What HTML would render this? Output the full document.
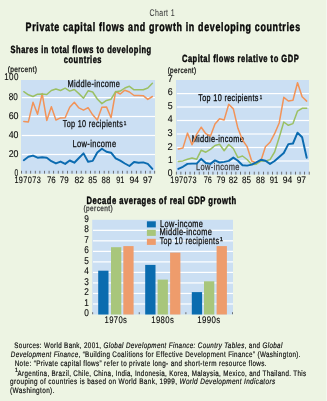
<!DOCTYPE html>
<html><head><meta charset="utf-8"><style>
html,body{margin:0;padding:0;background:#edf4e3;}
body{width:327px;height:401px;overflow:hidden;}
svg{display:block;will-change:transform;font-family:"Liberation Sans", sans-serif;text-rendering:geometricPrecision;}
</style></head><body>
<svg width="327" height="401" viewBox="0 0 327 401" fill="#080808">
<rect width="327" height="401" fill="#edf4e3"/>
<rect x="326" y="0" width="1" height="401" fill="#f4f7ef"/>
<rect x="21.0" y="80.0" width="134.0" height="93.80000000000001" fill="#cbdff3"/>
<rect x="21.8" y="97.0" width="133.2" height="1.2" fill="#fff"/>
<rect x="21.8" y="115.9" width="133.2" height="1.2" fill="#fff"/>
<rect x="21.8" y="134.9" width="133.2" height="1.2" fill="#fff"/>
<rect x="21.8" y="153.9" width="133.2" height="1.2" fill="#fff"/>
<rect x="21.10" y="170.8" width="0.8" height="2.8" fill="#555"/>
<rect x="25.69" y="170.8" width="0.8" height="2.8" fill="#555"/>
<rect x="30.29" y="170.8" width="0.8" height="2.8" fill="#555"/>
<rect x="34.88" y="170.8" width="0.8" height="2.8" fill="#555"/>
<rect x="39.47" y="170.8" width="0.8" height="2.8" fill="#555"/>
<rect x="44.07" y="170.8" width="0.8" height="2.8" fill="#555"/>
<rect x="48.66" y="170.8" width="0.8" height="2.8" fill="#555"/>
<rect x="53.25" y="170.8" width="0.8" height="2.8" fill="#555"/>
<rect x="57.84" y="170.8" width="0.8" height="2.8" fill="#555"/>
<rect x="62.44" y="170.8" width="0.8" height="2.8" fill="#555"/>
<rect x="67.03" y="170.8" width="0.8" height="2.8" fill="#555"/>
<rect x="71.62" y="170.8" width="0.8" height="2.8" fill="#555"/>
<rect x="76.22" y="170.8" width="0.8" height="2.8" fill="#555"/>
<rect x="80.81" y="170.8" width="0.8" height="2.8" fill="#555"/>
<rect x="85.40" y="170.8" width="0.8" height="2.8" fill="#555"/>
<rect x="89.99" y="170.8" width="0.8" height="2.8" fill="#555"/>
<rect x="94.59" y="170.8" width="0.8" height="2.8" fill="#555"/>
<rect x="99.18" y="170.8" width="0.8" height="2.8" fill="#555"/>
<rect x="103.77" y="170.8" width="0.8" height="2.8" fill="#555"/>
<rect x="108.37" y="170.8" width="0.8" height="2.8" fill="#555"/>
<rect x="112.96" y="170.8" width="0.8" height="2.8" fill="#555"/>
<rect x="117.55" y="170.8" width="0.8" height="2.8" fill="#555"/>
<rect x="122.15" y="170.8" width="0.8" height="2.8" fill="#555"/>
<rect x="126.74" y="170.8" width="0.8" height="2.8" fill="#555"/>
<rect x="131.33" y="170.8" width="0.8" height="2.8" fill="#555"/>
<rect x="135.92" y="170.8" width="0.8" height="2.8" fill="#555"/>
<rect x="140.52" y="170.8" width="0.8" height="2.8" fill="#555"/>
<rect x="145.11" y="170.8" width="0.8" height="2.8" fill="#555"/>
<rect x="149.70" y="170.8" width="0.8" height="2.8" fill="#555"/>
<rect x="154.30" y="170.8" width="0.8" height="2.8" fill="#555"/>
<text id="midL" x="67.60" y="87.0" font-size="9.90" textLength="52.69" lengthAdjust="spacingAndGlyphs" letter-spacing="0.45" stroke="#080808" stroke-width="0.25">Middle-income</text>
<text id="topL" x="62.78" y="126.9" font-size="9.90" textLength="60.32" lengthAdjust="spacingAndGlyphs" letter-spacing="0.45" stroke="#080808" stroke-width="0.25">Top 10 recipients</text>
<text id="topLs" x="123.70" y="124.9" font-size="5.60" textLength="2.61" lengthAdjust="spacingAndGlyphs" stroke="#080808" stroke-width="0.25">1</text>
<text id="lowL" x="72.60" y="146.9" font-size="9.90" textLength="43.80" lengthAdjust="spacingAndGlyphs" letter-spacing="0.45" stroke="#080808" stroke-width="0.25">Low-income</text>
<polyline points="23.80,121.6 28.39,121.9 32.99,102.3 37.58,114.2 42.17,93.6 46.77,120.4 51.36,106.7 55.95,120 60.54,117.9 65.14,117.7 69.73,107.3 74.32,102.3 78.92,107.9 83.51,110.2 88.10,107.7 92.69,114.8 97.29,120 101.88,107.3 106.47,106.9 111.07,117.7 115.66,91.5 120.25,94 124.85,90.2 129.44,92 134.03,95.5 138.62,95.5 143.22,95.7 147.81,99.4 152.40,96.5" fill="none" stroke="#f29358" stroke-width="1.5" stroke-linejoin="round" stroke-linecap="round"/>
<polyline points="23.80,91.7 28.39,94.8 32.99,96.5 37.58,94.2 42.17,94 46.77,94.5 51.36,90.5 55.95,89 60.54,90.5 65.14,88.2 69.73,91.1 74.32,89.5 78.92,93.6 83.51,98.2 88.10,90.8 92.69,92 97.29,99 101.88,103.6 106.47,100.4 111.07,99.2 115.66,91.7 120.25,91.1 124.85,88 129.44,86.3 134.03,89.8 138.62,89.8 143.22,89.8 147.81,88 152.40,83.2" fill="none" stroke="#9bc064" stroke-width="1.5" stroke-linejoin="round" stroke-linecap="round"/>
<polyline points="23.80,160.2 28.39,156.8 32.99,155.6 37.58,157.7 42.17,157.2 46.77,157.7 51.36,161.2 55.95,163.4 60.54,161.6 65.14,163.9 69.73,160.5 74.32,162.7 78.92,158 83.51,153.4 88.10,161.8 92.69,160.9 97.29,152.5 101.88,148.7 106.47,151.8 111.07,152.7 115.66,158.4 120.25,160.7 124.85,163.5 129.44,166 134.03,162 138.62,162.7 143.22,162.4 147.81,163.9 152.40,168.9" fill="none" stroke="#0b6bb0" stroke-width="1.95" stroke-linejoin="round" stroke-linecap="round"/>
<rect x="176.0" y="80.0" width="133.0" height="94.6" fill="#cbdff3"/>
<rect x="176.8" y="93.0" width="132.2" height="1.2" fill="#fff"/>
<rect x="176.8" y="106.4" width="132.2" height="1.2" fill="#fff"/>
<rect x="176.8" y="119.9" width="132.2" height="1.2" fill="#fff"/>
<rect x="176.8" y="133.4" width="132.2" height="1.2" fill="#fff"/>
<rect x="176.8" y="146.9" width="132.2" height="1.2" fill="#fff"/>
<rect x="176.8" y="160.4" width="132.2" height="1.2" fill="#fff"/>
<rect x="175.90" y="171.7" width="0.8" height="2.9" fill="#555"/>
<rect x="180.48" y="171.7" width="0.8" height="2.9" fill="#555"/>
<rect x="185.07" y="171.7" width="0.8" height="2.9" fill="#555"/>
<rect x="189.65" y="171.7" width="0.8" height="2.9" fill="#555"/>
<rect x="194.23" y="171.7" width="0.8" height="2.9" fill="#555"/>
<rect x="198.81" y="171.7" width="0.8" height="2.9" fill="#555"/>
<rect x="203.40" y="171.7" width="0.8" height="2.9" fill="#555"/>
<rect x="207.98" y="171.7" width="0.8" height="2.9" fill="#555"/>
<rect x="212.56" y="171.7" width="0.8" height="2.9" fill="#555"/>
<rect x="217.15" y="171.7" width="0.8" height="2.9" fill="#555"/>
<rect x="221.73" y="171.7" width="0.8" height="2.9" fill="#555"/>
<rect x="226.31" y="171.7" width="0.8" height="2.9" fill="#555"/>
<rect x="230.90" y="171.7" width="0.8" height="2.9" fill="#555"/>
<rect x="235.48" y="171.7" width="0.8" height="2.9" fill="#555"/>
<rect x="240.06" y="171.7" width="0.8" height="2.9" fill="#555"/>
<rect x="244.65" y="171.7" width="0.8" height="2.9" fill="#555"/>
<rect x="249.23" y="171.7" width="0.8" height="2.9" fill="#555"/>
<rect x="253.81" y="171.7" width="0.8" height="2.9" fill="#555"/>
<rect x="258.39" y="171.7" width="0.8" height="2.9" fill="#555"/>
<rect x="262.98" y="171.7" width="0.8" height="2.9" fill="#555"/>
<rect x="267.56" y="171.7" width="0.8" height="2.9" fill="#555"/>
<rect x="272.14" y="171.7" width="0.8" height="2.9" fill="#555"/>
<rect x="276.73" y="171.7" width="0.8" height="2.9" fill="#555"/>
<rect x="281.31" y="171.7" width="0.8" height="2.9" fill="#555"/>
<rect x="285.89" y="171.7" width="0.8" height="2.9" fill="#555"/>
<rect x="290.48" y="171.7" width="0.8" height="2.9" fill="#555"/>
<rect x="295.06" y="171.7" width="0.8" height="2.9" fill="#555"/>
<rect x="299.64" y="171.7" width="0.8" height="2.9" fill="#555"/>
<rect x="304.22" y="171.7" width="0.8" height="2.9" fill="#555"/>
<rect x="308.81" y="171.7" width="0.8" height="2.9" fill="#555"/>
<text id="topR" x="198.30" y="100.8" font-size="9.70" textLength="60.41" lengthAdjust="spacingAndGlyphs" letter-spacing="0.45" stroke="#080808" stroke-width="0.25">Top 10 recipients</text>
<text id="topRs" x="259.70" y="98.8" font-size="5.60" textLength="2.44" lengthAdjust="spacingAndGlyphs" stroke="#080808" stroke-width="0.25">1</text>
<text id="midR" x="191.63" y="142.3" font-size="9.70" textLength="52.49" lengthAdjust="spacingAndGlyphs" letter-spacing="0.45" stroke="#080808" stroke-width="0.25">Middle-income</text>
<text id="lowR" x="196.10" y="170.4" font-size="9.70" textLength="43.70" lengthAdjust="spacingAndGlyphs" letter-spacing="0.45" fill="#3c3c3c" stroke="#3c3c3c" stroke-width="0.25">Low-income</text>
<polyline points="178.30,148.9 182.89,148.1 187.47,133.1 192.06,144.7 196.64,134.3 201.23,127.2 205.82,133.7 210.40,136.2 214.99,124 219.57,118.7 224.16,119.9 228.75,104.3 233.33,108.9 237.92,128.3 242.50,140 247.09,146.6 251.68,161 256.26,163 260.85,161 265.43,146.7 270.02,142.3 274.61,133.7 279.19,123 283.78,97.3 288.36,101 292.95,100.2 297.54,82.7 302.12,96.7 306.71,101.1" fill="none" stroke="#f29358" stroke-width="1.5" stroke-linejoin="round" stroke-linecap="round"/>
<polyline points="178.30,161.4 182.89,160.9 187.47,159.3 192.06,158 196.64,159.3 201.23,150.2 205.82,152.2 210.40,149.3 214.99,145.5 219.57,144.2 224.16,150.7 228.75,144.5 233.33,148.5 237.92,157.6 242.50,156 247.09,159.5 251.68,164.4 256.26,164.2 260.85,161 265.43,161 270.02,159.6 274.61,152 279.19,137.5 283.78,122 288.36,125.3 292.95,123.6 297.54,111.1 302.12,108.3 306.71,108.2" fill="none" stroke="#9bc064" stroke-width="1.5" stroke-linejoin="round" stroke-linecap="round"/>
<polyline points="178.30,168.9 182.89,166.8 187.47,163.9 192.06,163.6 196.64,163.6 201.23,158.9 205.82,163 210.40,163.9 214.99,160.4 219.57,162.5 224.16,161.9 228.75,160.9 233.33,157.6 237.92,160.7 242.50,165.2 247.09,165.6 251.68,164.6 256.26,162.3 260.85,159.8 265.43,160.8 270.02,163.9 274.61,161 279.19,157 283.78,153 288.36,144.1 292.95,143.5 297.54,132.7 302.12,137.3 306.71,157.7" fill="none" stroke="#0b6bb0" stroke-width="1.95" stroke-linejoin="round" stroke-linecap="round"/>
<rect x="92.2" y="219.8" width="140.8" height="94.69999999999999" fill="#cbdff3"/>
<rect x="93.0" y="303.38" width="140.0" height="1.2" fill="#fff"/>
<rect x="93.0" y="292.86" width="140.0" height="1.2" fill="#fff"/>
<rect x="93.0" y="282.33" width="140.0" height="1.2" fill="#fff"/>
<rect x="93.0" y="271.81" width="140.0" height="1.2" fill="#fff"/>
<rect x="93.0" y="261.29" width="140.0" height="1.2" fill="#fff"/>
<rect x="93.0" y="250.77" width="140.0" height="1.2" fill="#fff"/>
<rect x="93.0" y="240.24" width="140.0" height="1.2" fill="#fff"/>
<rect x="93.0" y="229.72" width="140.0" height="1.2" fill="#fff"/>
<rect x="92.3" y="312.2" width="0.8" height="2" fill="#555"/>
<rect x="138.79999999999998" y="312.2" width="0.8" height="2" fill="#555"/>
<rect x="185.5" y="312.2" width="0.8" height="2" fill="#555"/>
<rect x="232.0" y="312.2" width="0.8" height="2" fill="#555"/>
<rect x="98.2" y="270.7" width="10.3" height="43.80" fill="#0a6caf"/>
<rect x="111.0" y="247.2" width="10.3" height="67.30" fill="#a8c67b"/>
<rect x="123.3" y="246.1" width="10.3" height="68.40" fill="#ee9c6c"/>
<rect x="145.2" y="264.9" width="10.3" height="49.60" fill="#0a6caf"/>
<rect x="157.6" y="279.6" width="10.3" height="34.90" fill="#a8c67b"/>
<rect x="170.1" y="252.6" width="10.3" height="61.90" fill="#ee9c6c"/>
<rect x="191.8" y="292.1" width="10.3" height="22.40" fill="#0a6caf"/>
<rect x="204.0" y="281.3" width="10.3" height="33.20" fill="#a8c67b"/>
<rect x="216.6" y="246.1" width="10.3" height="68.40" fill="#ee9c6c"/>
<rect x="146.9" y="221.3" width="8.9" height="6.1" fill="#0a6caf"/>
<rect x="146.9" y="229.8" width="8.9" height="6.1" fill="#a8c67b"/>
<rect x="146.9" y="238.8" width="8.9" height="6.1" fill="#ee9c6c"/>
<text x="88.9" y="316.40" font-size="9.80" textLength="4.6" lengthAdjust="spacingAndGlyphs" text-anchor="end" stroke="#080808" stroke-width="0.1">0</text>
<text x="88.9" y="305.88" font-size="9.80" textLength="4.6" lengthAdjust="spacingAndGlyphs" text-anchor="end" stroke="#080808" stroke-width="0.1">1</text>
<text x="88.9" y="295.36" font-size="9.80" textLength="4.6" lengthAdjust="spacingAndGlyphs" text-anchor="end" stroke="#080808" stroke-width="0.1">2</text>
<text x="88.9" y="284.83" font-size="9.80" textLength="4.6" lengthAdjust="spacingAndGlyphs" text-anchor="end" stroke="#080808" stroke-width="0.1">3</text>
<text x="88.9" y="274.31" font-size="9.80" textLength="4.6" lengthAdjust="spacingAndGlyphs" text-anchor="end" stroke="#080808" stroke-width="0.1">4</text>
<text x="88.9" y="263.79" font-size="9.80" textLength="4.6" lengthAdjust="spacingAndGlyphs" text-anchor="end" stroke="#080808" stroke-width="0.1">5</text>
<text x="88.9" y="253.27" font-size="9.80" textLength="4.6" lengthAdjust="spacingAndGlyphs" text-anchor="end" stroke="#080808" stroke-width="0.1">6</text>
<text x="88.9" y="242.74" font-size="9.80" textLength="4.6" lengthAdjust="spacingAndGlyphs" text-anchor="end" stroke="#080808" stroke-width="0.1">7</text>
<text x="88.9" y="232.22" font-size="9.80" textLength="4.6" lengthAdjust="spacingAndGlyphs" text-anchor="end" stroke="#080808" stroke-width="0.1">8</text>
<text x="88.9" y="221.70" font-size="9.80" textLength="4.6" lengthAdjust="spacingAndGlyphs" text-anchor="end" stroke="#080808" stroke-width="0.1">9</text>
<text id="chart1" x="149.60" y="16.2" font-size="9.70" textLength="25.26" lengthAdjust="spacingAndGlyphs" letter-spacing="0.45" fill="#3a3a3a" stroke="#3a3a3a" stroke-width="0.05">Chart 1</text>
<text id="title" x="25.58" y="30.7" font-size="12.20" textLength="275.18" lengthAdjust="spacingAndGlyphs" font-weight="bold" letter-spacing="0.9" stroke="#080808" stroke-width="0.45">Private capital flows and growth in developing countries</text>
<text id="sub1" x="10.62" y="52.8" font-size="10.40" textLength="141.03" lengthAdjust="spacingAndGlyphs" font-weight="bold" letter-spacing="0.7" stroke="#080808" stroke-width="0.45">Shares in total flows to developing</text>
<text id="sub2" x="63.84" y="62.7" font-size="10.40" textLength="38.18" lengthAdjust="spacingAndGlyphs" font-weight="bold" letter-spacing="0.7" stroke="#080808" stroke-width="0.45">countries</text>
<text id="sub3" x="181.95" y="61.6" font-size="10.40" textLength="117.25" lengthAdjust="spacingAndGlyphs" font-weight="bold" letter-spacing="0.7" stroke="#080808" stroke-width="0.45">Capital flows relative to GDP</text>
<text id="pctL" x="7.65" y="72.4" font-size="8.10" textLength="29.58" lengthAdjust="spacingAndGlyphs" letter-spacing="0.45" stroke="#080808" stroke-width="0.25">(percent)</text>
<text id="pctR" x="167.63" y="72.8" font-size="8.10" textLength="28.79" lengthAdjust="spacingAndGlyphs" letter-spacing="0.45" stroke="#080808" stroke-width="0.25">(percent)</text>
<text id="yl100" x="4.26" y="80.3" font-size="9.80" textLength="14.54" lengthAdjust="spacingAndGlyphs" letter-spacing="0.45" stroke="#080808" stroke-width="0.1">100</text>
<text id="yl80" x="8.65" y="99.9" font-size="9.80" textLength="9.11" lengthAdjust="spacingAndGlyphs" stroke="#080808" stroke-width="0.1">80</text>
<text id="yl60" x="8.63" y="119.0" font-size="9.80" textLength="9.92" lengthAdjust="spacingAndGlyphs" stroke="#080808" stroke-width="0.1">60</text>
<text id="yl40" x="8.68" y="138.1" font-size="9.80" textLength="9.79" lengthAdjust="spacingAndGlyphs" stroke="#080808" stroke-width="0.1">40</text>
<text id="yl20" x="8.64" y="157.0" font-size="9.80" textLength="9.85" lengthAdjust="spacingAndGlyphs" stroke="#080808" stroke-width="0.1">20</text>
<text id="yl0" x="14.52" y="175.7" font-size="9.80" textLength="3.68" lengthAdjust="spacingAndGlyphs" stroke="#080808" stroke-width="0.1">0</text>
<text id="yr7" x="167.81" y="81.6" font-size="9.80" textLength="4.94" lengthAdjust="spacingAndGlyphs" stroke="#080808" stroke-width="0.1">7</text>
<text id="yr6" x="167.64" y="95.3" font-size="9.80" textLength="4.95" lengthAdjust="spacingAndGlyphs" stroke="#080808" stroke-width="0.1">6</text>
<text id="yr5" x="167.63" y="108.7" font-size="9.80" textLength="4.91" lengthAdjust="spacingAndGlyphs" stroke="#080808" stroke-width="0.1">5</text>
<text id="yr4" x="167.84" y="122.4" font-size="9.80" textLength="4.87" lengthAdjust="spacingAndGlyphs" stroke="#080808" stroke-width="0.1">4</text>
<text id="yr3" x="167.61" y="136.0" font-size="9.80" textLength="5.13" lengthAdjust="spacingAndGlyphs" stroke="#080808" stroke-width="0.1">3</text>
<text id="yr2" x="167.61" y="149.7" font-size="9.80" textLength="5.22" lengthAdjust="spacingAndGlyphs" stroke="#080808" stroke-width="0.1">2</text>
<text id="yr1" x="168.12" y="162.8" font-size="9.80" textLength="4.72" lengthAdjust="spacingAndGlyphs" stroke="#080808" stroke-width="0.1">1</text>
<text id="yr0" x="167.76" y="175.9" font-size="9.80" textLength="4.73" lengthAdjust="spacingAndGlyphs" stroke="#080808" stroke-width="0.1">0</text>
<text id="xl0" x="14.42" y="182.7" font-size="9.30" textLength="26.72" lengthAdjust="spacingAndGlyphs" letter-spacing="0.45" stroke="#080808" stroke-width="0.1">197073</text>
<text id="xl76" x="46.88" y="182.7" font-size="9.30" textLength="8.86" lengthAdjust="spacingAndGlyphs" stroke="#080808" stroke-width="0.1">76</text>
<text id="xl79" x="59.85" y="182.7" font-size="9.30" textLength="8.89" lengthAdjust="spacingAndGlyphs" stroke="#080808" stroke-width="0.1">79</text>
<text id="xl82" x="74.43" y="182.7" font-size="9.30" textLength="9.58" lengthAdjust="spacingAndGlyphs" stroke="#080808" stroke-width="0.1">82</text>
<text id="xl85" x="88.34" y="182.7" font-size="9.30" textLength="8.70" lengthAdjust="spacingAndGlyphs" stroke="#080808" stroke-width="0.1">85</text>
<text id="xl88" x="101.58" y="182.7" font-size="9.30" textLength="8.70" lengthAdjust="spacingAndGlyphs" stroke="#080808" stroke-width="0.1">88</text>
<text id="xl91" x="116.24" y="182.7" font-size="9.30" textLength="8.05" lengthAdjust="spacingAndGlyphs" stroke="#080808" stroke-width="0.1">91</text>
<text id="xl94" x="129.41" y="182.7" font-size="9.30" textLength="9.63" lengthAdjust="spacingAndGlyphs" stroke="#080808" stroke-width="0.1">94</text>
<text id="xl97" x="143.08" y="182.7" font-size="9.30" textLength="9.38" lengthAdjust="spacingAndGlyphs" stroke="#080808" stroke-width="0.1">97</text>
<text id="xr0" x="170.19" y="183.3" font-size="9.30" textLength="26.73" lengthAdjust="spacingAndGlyphs" letter-spacing="0.45" stroke="#080808" stroke-width="0.1">197073</text>
<text id="xr76" x="203.69" y="183.3" font-size="9.30" textLength="8.18" lengthAdjust="spacingAndGlyphs" stroke="#080808" stroke-width="0.1">76</text>
<text id="xr79" x="216.61" y="183.3" font-size="9.30" textLength="8.79" lengthAdjust="spacingAndGlyphs" stroke="#080808" stroke-width="0.1">79</text>
<text id="xr82" x="228.65" y="183.3" font-size="9.30" textLength="9.06" lengthAdjust="spacingAndGlyphs" stroke="#080808" stroke-width="0.1">82</text>
<text id="xr85" x="242.02" y="183.3" font-size="9.30" textLength="9.01" lengthAdjust="spacingAndGlyphs" stroke="#080808" stroke-width="0.1">85</text>
<text id="xr88" x="256.04" y="183.3" font-size="9.30" textLength="8.86" lengthAdjust="spacingAndGlyphs" stroke="#080808" stroke-width="0.1">88</text>
<text id="xr91" x="269.77" y="183.3" font-size="9.30" textLength="8.57" lengthAdjust="spacingAndGlyphs" stroke="#080808" stroke-width="0.1">91</text>
<text id="xr94" x="282.63" y="183.3" font-size="9.30" textLength="9.53" lengthAdjust="spacingAndGlyphs" stroke="#080808" stroke-width="0.1">94</text>
<text id="xr97" x="296.65" y="183.3" font-size="9.30" textLength="9.34" lengthAdjust="spacingAndGlyphs" stroke="#080808" stroke-width="0.1">97</text>
<text id="dec" x="86.59" y="203.9" font-size="10.60" textLength="150.00" lengthAdjust="spacingAndGlyphs" font-weight="bold" letter-spacing="0.7" stroke="#080808" stroke-width="0.45">Decade averages of real GDP growth</text>
<text id="pctB" x="83.59" y="211.3" font-size="8.00" textLength="29.41" lengthAdjust="spacingAndGlyphs" letter-spacing="0.45" fill="#333" stroke="#333" stroke-width="0.25">(percent)</text>
<text id="lg1" x="160.07" y="226.8" font-size="9.80" textLength="43.25" lengthAdjust="spacingAndGlyphs" letter-spacing="0.45" stroke="#080808" stroke-width="0.25">Low-income</text>
<text id="lg2" x="159.44" y="235.3" font-size="9.80" textLength="52.76" lengthAdjust="spacingAndGlyphs" letter-spacing="0.45" stroke="#080808" stroke-width="0.25">Middle-income</text>
<text id="lg3" x="159.67" y="243.7" font-size="9.80" textLength="59.69" lengthAdjust="spacingAndGlyphs" letter-spacing="0.45" stroke="#080808" stroke-width="0.25">Top 10 recipients</text>
<text id="lg3s" x="219.70" y="240.7" font-size="5.60" textLength="3.25" lengthAdjust="spacingAndGlyphs" stroke="#080808" stroke-width="0.25">1</text>
<text id="d70" x="104.49" y="322.6" font-size="9.60" textLength="22.83" lengthAdjust="spacingAndGlyphs" letter-spacing="0.45" stroke="#080808" stroke-width="0.1">1970s</text>
<text id="d80" x="151.24" y="322.6" font-size="9.60" textLength="22.92" lengthAdjust="spacingAndGlyphs" letter-spacing="0.45" stroke="#080808" stroke-width="0.1">1980s</text>
<text id="d90" x="197.24" y="322.8" font-size="9.60" textLength="23.38" lengthAdjust="spacingAndGlyphs" letter-spacing="0.45" stroke="#080808" stroke-width="0.1">1990s</text>
<text id="f1" x="14.34" y="348.0" font-size="8.00" textLength="268.34" lengthAdjust="spacingAndGlyphs" letter-spacing="0.45" fill="#0c0c0c" stroke="#0c0c0c" stroke-width="0.18">Sources: World Bank, 2001, <tspan font-style="italic">Global Development Finance: Country Tables</tspan>, and <tspan font-style="italic">Global</tspan></text>
<text id="f2" x="10.76" y="357.0" font-size="8.00" textLength="290.10" lengthAdjust="spacingAndGlyphs" letter-spacing="0.45" fill="#0c0c0c" stroke="#0c0c0c" stroke-width="0.18"><tspan font-style="italic">Development Finance</tspan>, “Building Coalitions for Effective Development Finance” (Washington).</text>
<text id="f3" x="14.67" y="365.9" font-size="8.00" textLength="252.17" lengthAdjust="spacingAndGlyphs" letter-spacing="0.45" fill="#0c0c0c" stroke="#0c0c0c" stroke-width="0.18">Note: “Private capital flows” refer to private long- and short-term resource flows.</text>
<text id="f4s" x="14.74" y="372.4" font-size="6.20" fill="#0c0c0c" stroke="#0c0c0c" stroke-width="0.18">1</text>
<text id="f4" x="17.61" y="376.0" font-size="8.00" textLength="288.82" lengthAdjust="spacingAndGlyphs" letter-spacing="0.45" fill="#0c0c0c" stroke="#0c0c0c" stroke-width="0.18">Argentina, Brazil, Chile, China, India, Indonesia, Korea, Malaysia, Mexico, and Thailand. This</text>
<text id="f5" x="10.11" y="384.3" font-size="8.00" textLength="265.36" lengthAdjust="spacingAndGlyphs" letter-spacing="0.45" fill="#0c0c0c" stroke="#0c0c0c" stroke-width="0.18">grouping of countries is based on World Bank, 1999, <tspan font-style="italic">World Development Indicators</tspan></text>
<text id="f6" x="10.10" y="392.6" font-size="8.00" textLength="44.71" lengthAdjust="spacingAndGlyphs" letter-spacing="0.45" fill="#0c0c0c" stroke="#0c0c0c" stroke-width="0.18">(Washington).</text>
</svg>
</body></html>
